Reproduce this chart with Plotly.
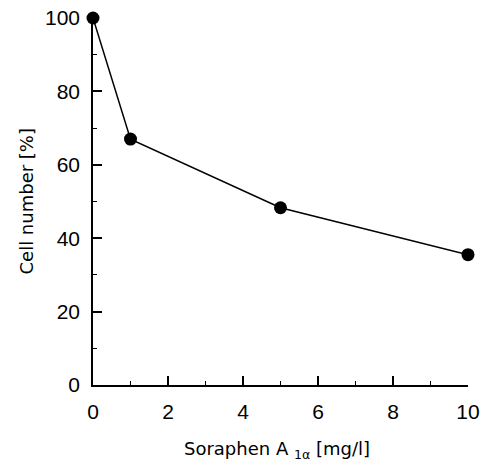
import plotly.graph_objects as go

conc = [0, 1, 5, 10]
cell_number = [100, 67, 48.3, 35.5]
x_ticks = [0, 2, 4, 6, 8, 10]
y_ticks = [0, 20, 40, 60, 80, 100]
x_title = "Soraphen A <sub>1α</sub> [mg/l]"
y_title = "Cell number [%]"

TICKFONT = "Liberation Sans, Arial"
TITLEFONT = "DejaVu Sans, Liberation Sans, Arial"

fig = go.Figure()
fig.add_trace(go.Scatter(
    x=conc, y=cell_number, mode="lines+markers",
    line=dict(color="black", width=1.5),
    marker=dict(color="black", size=13),
    cliponaxis=False, showlegend=False))

axis_common = dict(
    showline=True, linecolor="black", linewidth=1.5, mirror=False,
    showgrid=False, zeroline=False, ticks="inside", tickcolor="black",
    ticklen=9, tickwidth=1.5, automargin=False,
    tickfont=dict(family=TICKFONT, size=21, color="black"),
)

fig.update_xaxes(range=[0, 10], tickvals=x_ticks, ticklabelstandoff=7, **axis_common,
                 minor=dict(ticks="inside", dtick=1, ticklen=4, tickcolor="black", tickwidth=1))
fig.update_yaxes(range=[0, 100], tickvals=y_ticks, ticklabelstandoff=7, **axis_common,
                 minor=dict(ticks="inside", dtick=10, ticklen=4, tickcolor="black", tickwidth=1))

fig.add_annotation(text=x_title, xref="paper", yref="paper", x=0.49, y=0,
                   xanchor="center", yanchor="middle", yshift=-65, showarrow=False,
                   font=dict(family=TITLEFONT, size=18, color="black"))
fig.add_annotation(text=y_title, xref="paper", yref="paper", x=0, y=0.5,
                   xanchor="center", yanchor="middle", xshift=-67, textangle=-90,
                   showarrow=False,
                   font=dict(family=TITLEFONT, size=18, color="black", weight=500))

fig.update_layout(
    width=481, height=461,
    margin=dict(l=93, r=13, t=18, b=76),
    plot_bgcolor="white", paper_bgcolor="white",
)

fig.write_html("out.html", config={"displayModeBar": False},
               post_script="document.body.style.margin='0';")
